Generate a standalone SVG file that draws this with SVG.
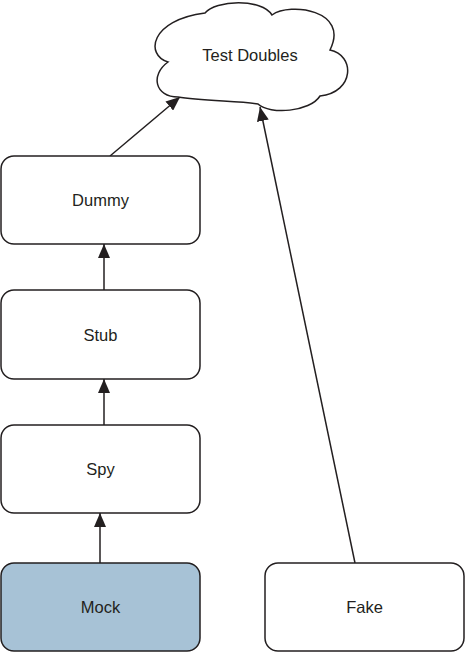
<svg xmlns="http://www.w3.org/2000/svg" width="465" height="653" viewBox="0 0 465 653">
<style>
.box{fill:#fff;stroke:#231f20;stroke-width:1.5}
.mock{fill:#a7c2d6}
.lbl{font-family:"Liberation Sans",Arial,sans-serif;font-size:16.5px;fill:#231f20;text-anchor:middle;dominant-baseline:central}
.edge{stroke:#231f20;stroke-width:1.5;fill:none;marker-end:url(#ah)}
</style>
<defs>
<marker id="ah" viewBox="0 0 14 12" refX="14" refY="6" markerWidth="14" markerHeight="12" markerUnits="userSpaceOnUse" orient="auto">
<path d="M0,0 L14,6 L0,12 Z" fill="#231f20"/>
</marker>
</defs>
<g id="connectors">
<line class="edge" x1="110" y1="156" x2="180" y2="97"/>
<line class="edge" x1="355" y1="563" x2="260" y2="107"/>
<line class="edge" x1="104" y1="290" x2="104" y2="244"/>
<line class="edge" x1="104" y1="425" x2="104" y2="379"/>
<line class="edge" x1="100" y1="563" x2="100" y2="513"/>
</g>
<g id="test-doubles">
<path class="box" d="M178,97 C155,97 150,75 168,62 C145,55 150,20 205,13 C215,0 262,-2 272,15 C290,2 350,10 330,50 C355,55 355,92 320,96 C310,112 270,115 258,104 C240,101 200,101 178,97 Z"/>
<text class="lbl" x="250" y="55">Test Doubles</text>
</g>
<g id="dummy">
<rect class="box" x="1" y="156" width="199" height="88" rx="13"/>
<text class="lbl" x="100.5" y="200">Dummy</text>
</g>
<g id="stub">
<rect class="box" x="1" y="290" width="199" height="89" rx="13"/>
<text class="lbl" x="100.5" y="335">Stub</text>
</g>
<g id="spy">
<rect class="box" x="1" y="425" width="199" height="88" rx="13"/>
<text class="lbl" x="100.5" y="469">Spy</text>
</g>
<g id="mock">
<rect class="box mock" x="1" y="563" width="199" height="88" rx="13"/>
<text class="lbl" x="100.5" y="607">Mock</text>
</g>
<g id="fake">
<rect class="box" x="265" y="563" width="199" height="88" rx="13"/>
<text class="lbl" x="364.5" y="607">Fake</text>
</g>
</svg>
